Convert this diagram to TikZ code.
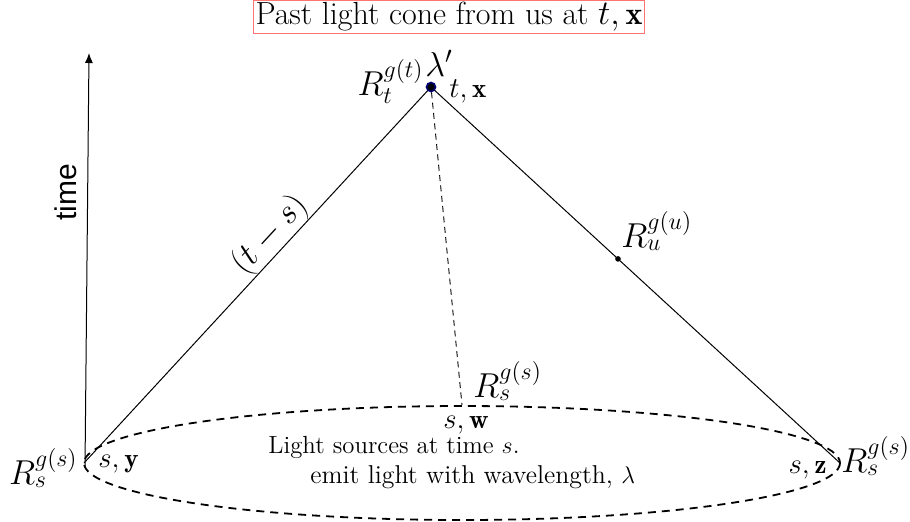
\documentclass[tikz,border=0pt]{standalone}
\usepackage{fontspec}
\newfontfamily\axisfont{Liberation Sans}
\usepackage{amsmath}
\usetikzlibrary{arrows.meta, positioning, calc}

\begin{document}
\begin{tikzpicture}[x=0.5pt, y=-0.5pt,
    >={Latex[width=4pt, length=5pt]},
    cone/.style ={line width=0.5pt},
    shell/.style={dash pattern=on 4pt off 3pt, line width=0.9pt},
    ray/.style  ={dash pattern=on 3pt off 2.2pt, line width=0.45pt},
    ev/.style   ={circle, draw=blue!45!black, fill=black, line width=0.8pt,
                  inner sep=0pt, minimum size=4.5pt},
    pt/.style   ={circle, fill, inner sep=0pt, minimum size=2.8pt},
    lbl/.style  ={font=\fontsize{13.5}{16}\selectfont, inner sep=1pt},
    rlbl/.style ={font=\fontsize{17}{20}\selectfont, inner sep=1pt},
    txt/.style  ={font=\fontsize{12.4}{14}\selectfont, inner sep=0pt, anchor=base west},
]
\useasboundingbox (0,0) rectangle (910,521);
% title
\node[draw=red!55, line width=0.4pt, inner sep=1pt,
      font=\fontsize{16}{18}\selectfont] (title) at (449,17)
     {Past light cone from us at $t,\mathbf{x}$};
% cone corners
\coordinate (lbase) at (84,463);
\coordinate (rbase) at (840,463);
\coordinate (wpt)   at (462,405);
\node[ev] (obs) at (431,87) {};
% time axis
\coordinate (tbot) at (85,468);
\coordinate (ttop) at (89,53);
\draw[->, line width=0.5pt] (tbot) -- (ttop);
\node[rotate=90, font=\axisfont\fontsize{15}{17}\selectfont] (time) at (66,192) {time};
% shell of light sources at time s
\draw[shell] (462,463) ellipse [x radius=378, y radius=57];
% light cone
\draw[cone] (lbase) -- node[pos=0.58, sloped, above, inner sep=0pt,
                            font=\fontsize{17}{20}\selectfont] (ts) {$(t-s)$} (obs);
\draw[cone] (obs) -- (rbase) node[pt, pos=0.452] (upt) {};
\draw[ray] (obs) -- (wpt);
% labels at the observer
\node[rlbl, anchor=base east] (robs) at (426,95) {$R_t^{g(t)}$};
\node[rlbl, anchor=base west, inner sep=0pt] (lam) at (425,76) {$\lambda'$};
\node[lbl, anchor=base west] (xobs) at (447,97) {$t,\mathbf{x}$};
% label on the cone
\node[rlbl, anchor=base west] (ru) at (619,247) {$R_u^{g(u)}$};
% labels on the shell
\node[rlbl, anchor=base west] (rw) at (471,397) {$R_s^{g(s)}$};
\node[lbl, anchor=base] (sw) at (466,428) {$s,\mathbf{w}$};
\node[rlbl, anchor=base east] (ry) at (80,484) {$R_s^{g(s)}$};
\node[lbl, anchor=base west] (sy) at (96,467) {$s,\mathbf{y}$};
\node[rlbl, anchor=base west] (rz) at (839,472) {$R_s^{g(s)}$};
\node[lbl, anchor=base east] (sz) at (829,473) {$s,\mathbf{z}$};
% description of the sources
\node[txt] (src1) at (268,453) {Light sources at time $s$.};
\node[txt, font=\fontsize{12.9}{15}\selectfont] (src2) at (310,483)
     {emit light with wavelength, $\lambda$};
\end{tikzpicture}
\end{document}
